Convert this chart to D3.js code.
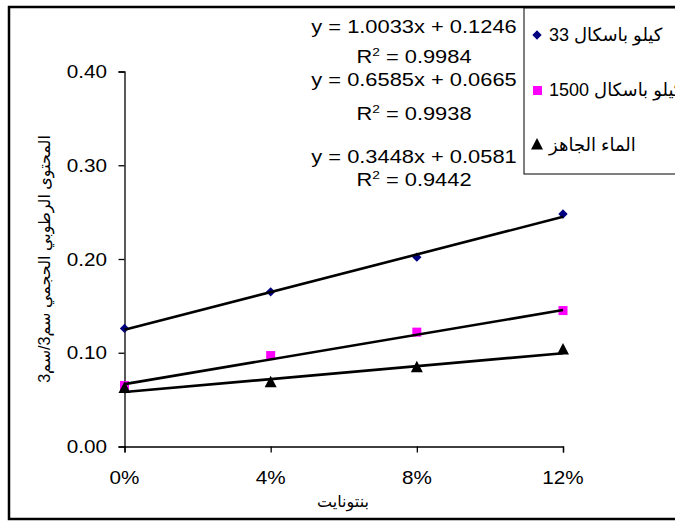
<!DOCTYPE html>
<html><head><meta charset="utf-8">
<script src="https://cdn.jsdelivr.net/npm/d3@7"></script>
<style>
html,body{margin:0;padding:0;background:#fff;}
svg{display:block;}
text{font-family:"Liberation Sans",Arial,"DejaVu Sans",sans-serif;fill:#000;}
</style></head>
<body>
<svg id="chart" width="675" height="522"></svg>
<script>
// ---- data ----
const categories = ["0%", "4%", "8%", "12%"];
const xValues = [0, 0.04, 0.08, 0.12];
const seriesNames = ["كيلو باسكال 33", "كيلو باسكال 1500", "الماء الجاهز"];
const kpa33 = [0.126, 0.165, 0.202, 0.248];
const kpa1500 = [0.065, 0.097, 0.122, 0.145];
const readyWater = [0.062, 0.068, 0.084, 0.103];
const trendSlopes = [1.0033, 0.6585, 0.3448];
const trendIntercepts = [0.1246, 0.0665, 0.0581];
const rSquared = ["0.9984", "0.9938", "0.9442"];
const yTicks = [0, 0.10, 0.20, 0.30, 0.40];
const yTitle = "المحتوى الرطوبي الحجمي سم3/سم3";
const xTitle = "بنتونايت";

const svg = d3.select("#chart");
const x = d3.scaleLinear().domain([0, 0.12]).range([124.5, 563]);
const y = d3.scaleLinear().domain([0, 0.4]).range([446.5, 71.5]);

// outer frame
svg.append("rect").attr("x", 9).attr("y", 7).attr("width", 700).attr("height", 512)
  .attr("fill", "none").attr("stroke", "#000").attr("stroke-width", 2.5);

// axes
const yAxis = d3.axisLeft(y).tickValues(yTicks).tickSize(6).tickFormat(d => "");
const gy = svg.append("g").attr("transform", `translate(${x(0)},0)`).call(yAxis);
const xAxis = d3.axisBottom(x).tickValues(xValues).tickSize(6).tickFormat(d => "");
const gx = svg.append("g").attr("transform", `translate(0,${y(0)})`).call(xAxis);
[gx, gy].forEach(g => {
  g.select(".domain").attr("stroke", "#000").attr("stroke-width", 1.3);
  g.selectAll(".tick line").attr("stroke", "#000").attr("stroke-width", 1.3);
});

function stext(parent, tx, ty, str, size, sx, anchor) {
  return parent.append("text")
    .attr("transform", `translate(${tx},${ty}) scale(${sx},1)`)
    .attr("text-anchor", anchor).style("font-size", size + "px").text(str);
}
// y tick labels
yTicks.forEach(v => stext(svg, 107, y(v) + 6.5, d3.format(".2f")(v), 18, 1.15, "end"));
// x tick labels
xValues.forEach((v, i) => stext(svg, x(v), 484, categories[i], 18, 1.15, "middle"));

// axis titles
svg.append("text").attr("transform", `translate(50,259) rotate(-90)`)
  .attr("text-anchor", "middle").style("font-size", "16px").text(yTitle);
svg.append("text").attr("x", 343).attr("y", 507)
  .attr("text-anchor", "middle").style("font-size", "16px").text(xTitle);

const data = [kpa33, kpa1500, readyWater];

// markers
const markerG = svg.append("g");
// diamonds
markerG.selectAll(".dia").data(kpa33).join("path")
  .attr("d", d3.symbol().type(d3.symbolDiamond2).size(55))
  .attr("transform", (d, i) => `translate(${x(xValues[i])},${y(d)})`)
  .attr("fill", "#000080");
markerG.selectAll(".sq").data(kpa1500).join("rect")
  .attr("x", (d, i) => x(xValues[i]) - 4.5).attr("y", d => y(d) - 4.5)
  .attr("width", 9).attr("height", 9).attr("fill", "#ff00ff");
markerG.selectAll(".tri").data(readyWater).join("path")
  .attr("d", "M0,-7L6,4.5L-6,4.5Z")
  .attr("transform", (d, i) => `translate(${x(xValues[i])},${y(d)})`)
  .attr("fill", "#000");

// trend lines
trendSlopes.forEach((m, k) => {
  const b = trendIntercepts[k];
  svg.append("line")
    .attr("x1", x(0)).attr("y1", y(b))
    .attr("x2", x(0.12)).attr("y2", y(b + m * 0.12))
    .attr("stroke", "#000").attr("stroke-width", 2.6);
});

// trend labels
const eqBase = [33, 86, 163];
const r2Base = [63, 120, 186];
trendSlopes.forEach((m, k) => {
  stext(svg, 414, eqBase[k], `y = ${m.toFixed(4)}x + ${trendIntercepts[k].toFixed(4)}`, 17.5, 1.25, "middle");
  const t = svg.append("text")
    .attr("transform", `translate(414,${r2Base[k]}) scale(1.25,1)`)
    .attr("text-anchor", "middle").style("font-size", "17.5px");
  t.append("tspan").text("R");
  t.append("tspan").attr("dy", -7).style("font-size", "11px").text("2");
  t.append("tspan").attr("dy", 7).text(" = " + rSquared[k]);
});

// legend
svg.append("rect").attr("x", 524).attr("y", 8).attr("width", 200).attr("height", 166)
  .attr("fill", "#fff").attr("stroke", "#000").attr("stroke-width", 1);
const legY = [35, 90, 145];
const lg = svg.append("g");
lg.append("path").attr("d", d3.symbol().type(d3.symbolDiamond2).size(55))
  .attr("transform", `translate(537,${legY[0]})`).attr("fill", "#000080");
lg.append("rect").attr("x", 533).attr("y", legY[1] - 4).attr("width", 9).attr("height", 9).attr("fill", "#ff00ff");
lg.append("path").attr("d", "M0,-7L6,4.5L-6,4.5Z")
  .attr("transform", `translate(537,${legY[2]})`).attr("fill", "#000");
seriesNames.forEach((n, i) => {
  lg.append("text").attr("x", 549).attr("y", legY[i] + 6).style("font-size", "18px").text(n);
});
</script>
</body></html>
